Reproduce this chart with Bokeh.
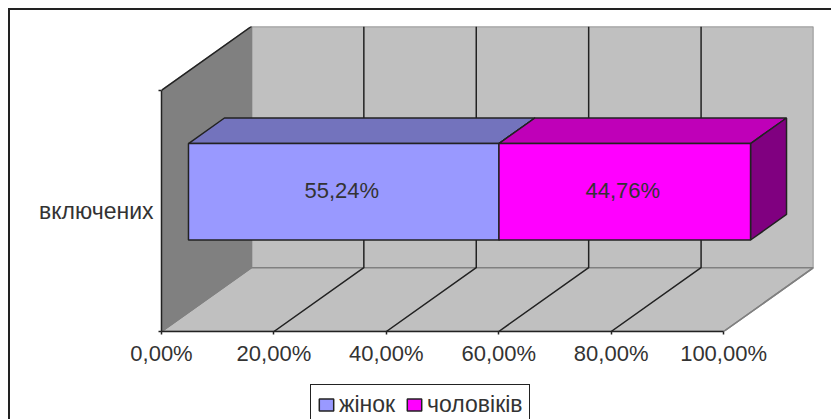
from bokeh.embed import file_html
from bokeh.resources import INLINE
from bokeh.plotting import figure
from bokeh.layouts import column
from bokeh.models import Range1d, LinearAxis, FixedTicker, Legend, LegendItem
from bokeh.core.properties import value

categories = ["включених"]
series_names = ["жінок", "чоловіків"]
series_values = [55.24, 44.76]
series_labels = ["55,24%", "44,76%"]
value_ticks = [0, 20, 40, 60, 80, 100]
value_tick_labels = ["0,00%", "20,00%", "40,00%", "60,00%", "80,00%", "100,00%"]

FONT = "Liberation Sans"
DARK = "#222222"
GREY = "#808080"
WALL = "#c0c0c0"
TXT = "#333333"
front_colors = ["#9999ff", "#ff00ff"]
top_colors = ["#7373bd", "#bf00b8"]
side_colors = ["#6b6bb0", "#800080"]

# oblique projection: depth d in [0, 1] shifts a point right and up
DX = 16.0     # percent units per unit depth
DY = 0.2645   # band units per unit depth
BAR_LOW, BAR_HIGH = 0.3, 0.7


def pr(v, h, d):
    return v + d * DX, h + d * DY


def face(points):
    xy = [pr(*pt) for pt in points]
    return [a for a, _ in xy], [b for _, b in xy]


p = figure(width=821, height=371, output_backend="svg", toolbar_location=None,
           x_axis_type=None, y_axis_type=None,
           x_range=Range1d(0, 100 + DX), y_range=Range1d(0, 1 + DY),
           min_border_left=151, min_border_right=18,
           min_border_top=16, min_border_bottom=50,
           background_fill_color="white", border_fill_color="white",
           outline_line_color=None)
p.grid.visible = False

# walls
xs, ys = face([(0, 0, 1), (100, 0, 1), (100, 1, 1), (0, 1, 1)])
p.patch(xs, ys, fill_color=WALL, line_color=GREY, line_width=1.5)
xs, ys = face([(0, 0, 0), (100, 0, 0), (100, 0, 1), (0, 0, 1)])
p.patch(xs, ys, fill_color=WALL, line_color=GREY, line_width=1.5)
xs, ys = face([(0, 0, 0), (0, 0, 1), (0, 1, 1), (0, 1, 0)])
p.patch(xs, ys, fill_color=GREY, line_color=GREY, line_width=1.5)
xs, ys = face([(0, 1, 0), (0, 1, 1)])
p.line(xs, ys, line_color=DARK, line_width=1.5)

# gridlines on the floor and the back wall
for t in value_ticks[1:-1]:
    xs, ys = face([(t, 0, 0), (t, 0, 1), (t, 1, 1)])
    p.line(xs, ys, line_color=DARK, line_width=1.5)
xs, ys = face([(100, 0, 0), (100, 0, 1)])
p.line(xs, ys, line_color=GREY, line_width=1.5)

# stacked 3D bar
y0 = BAR_LOW
y1 = BAR_HIGH
start = 0.0
centers_x, centers_y = [], []
spans = []
for i, val in enumerate(series_values):
    end = start + val
    spans.append((start, end))
    xs, ys = face([(start, y1, BAR_LOW), (end, y1, BAR_LOW), (end, y1, BAR_HIGH), (start, y1, BAR_HIGH)])
    p.patch(xs, ys, fill_color=top_colors[i], line_color=DARK, line_width=1.5)
    xs, ys = face([(end, y0, BAR_LOW), (end, y0, BAR_HIGH), (end, y1, BAR_HIGH), (end, y1, BAR_LOW)])
    p.patch(xs, ys, fill_color=side_colors[i], line_color=DARK, line_width=1.5)
    (l, b), (r, t) = pr(start, y0, BAR_LOW), pr(end, y1, BAR_LOW)
    p.quad(left=[l], right=[r], bottom=[b], top=[t], fill_color=front_colors[i],
           line_color=DARK, line_width=1.5)
    centers_x.append((l + r) / 2)
    centers_y.append((b + t) / 2)
    start = end

p.text(x=centers_x, y=centers_y, text=series_labels, text_font=value(FONT),
       text_font_size="22px", text_color=TXT, text_align="center",
       text_baseline="middle", x_offset=-2, y_offset=-1)

# axes
xax = LinearAxis(ticker=FixedTicker(ticks=value_ticks), bounds=(0, 100),
                 major_label_overrides=dict(zip(value_ticks, value_tick_labels)))
xax.axis_line_color = DARK
xax.axis_line_width = 1.5
xax.major_tick_line_color = DARK
xax.major_tick_line_width = 1.5
xax.major_tick_in = 0
xax.major_tick_out = 3
xax.minor_tick_line_color = None
xax.major_label_text_font = FONT
xax.major_label_text_font_size = "22px"
xax.major_label_text_color = TXT
xax.major_label_standoff = 6
p.add_layout(xax, "below")

yax = LinearAxis(ticker=FixedTicker(ticks=[0.5], minor_ticks=[0, 1]), bounds=(0, 1),
                 major_label_overrides={0.5: categories[0]})
yax.axis_line_color = DARK
yax.axis_line_width = 1.5
yax.major_tick_line_color = None
yax.major_tick_in = 0
yax.major_tick_out = 0
yax.minor_tick_line_color = DARK
yax.minor_tick_line_width = 1.5
yax.minor_tick_in = 0
yax.minor_tick_out = 3
yax.major_label_text_font = FONT
yax.major_label_text_font_size = "23px"
yax.major_label_text_color = TXT
yax.major_label_standoff = 5
yax.major_label_orientation = "horizontal"
p.add_layout(yax, "left")

# legend strip below the plot; its view range keeps the bars themselves out of sight
lg = figure(width=821, height=38, output_backend="svg", toolbar_location=None,
            x_axis_type=None, y_axis_type=None,
            x_range=Range1d(-2, -1), y_range=Range1d(0, 1),
            min_border_left=0, min_border_right=0, min_border_top=0, min_border_bottom=0,
            background_fill_color="white", border_fill_color="white",
            outline_line_color=None)
lg.grid.visible = False
legend_items = []
for name, color, (a, b) in zip(series_names, front_colors, spans):
    r = lg.quad(left=[a], right=[b], bottom=[0], top=[1], fill_color=color,
                line_color=DARK, line_width=1.5)
    legend_items.append(LegendItem(label=name, renderers=[r]))
leg = Legend(items=legend_items, orientation="horizontal", location=(149, -6),
             background_fill_color="white", background_fill_alpha=1,
             border_line_color=DARK, border_line_alpha=1, border_line_width=1.5,
             label_text_font=FONT, label_text_font_size="23px", label_text_color=TXT,
             glyph_width=18, glyph_height=15, label_standoff=4, spacing=10,
             padding=6, margin=0)
lg.add_layout(leg, "center")

page = column(p, lg, spacing=0,
              styles={"margin-left": "8px", "margin-top": "8px",
                      "border-left": "2px solid #222222",
                      "border-top": "2px solid #222222",
                      "box-sizing": "content-box"})

open("out.html", "w").write(file_html(page, INLINE))
